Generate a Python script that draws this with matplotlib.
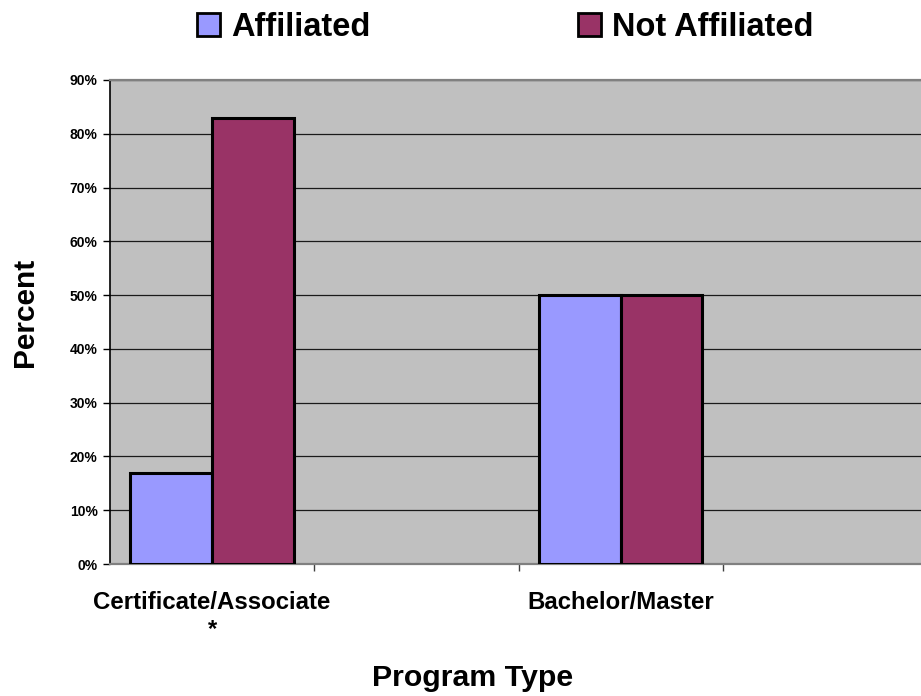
import numpy as np
import matplotlib
matplotlib.use("Agg")
import matplotlib.pyplot as plt
from matplotlib.patches import Patch
from matplotlib.ticker import FuncFormatter, FixedLocator

plt.rcParams["font.family"] = ["Liberation Sans", "DejaVu Sans"]
plt.rcParams["font.weight"] = "bold"

# Category slots (blank slots keep the wide spacing of the original layout)
categories = ["Certificate/Associate\n*", "", "Bachelor/Master", ""]
affiliated = [17, np.nan, 50, np.nan]
not_affiliated = [83, np.nan, 50, np.nan]
y_ticks = [0, 10, 20, 30, 40, 50, 60, 70, 80, 90]

series_names = ["Affiliated", "Not Affiliated"]
colors = ["#9999FF", "#993366"]

fig = plt.figure(figsize=(9.21, 6.96), dpi=100)
W, H = 921, 696
left, right, top, bottom = 110, 927, 80, 564
ax = fig.add_axes([left / W, 1 - bottom / H, (right - left) / W, (bottom - top) / H])
ax.set_facecolor("#C0C0C0")

x = np.arange(len(categories))
bw = 0.4
ax.bar(x - bw / 2, affiliated, width=bw, color=colors[0], edgecolor="black",
       linewidth=2.2, zorder=3)
ax.bar(x + bw / 2, not_affiliated, width=bw, color=colors[1], edgecolor="black",
       linewidth=2.2, zorder=3)

ax.set_xlim(-0.5, len(categories) - 0.5)
ax.set_ylim(0, 90)

# y axis
ax.set_yticks(y_ticks)
ax.yaxis.set_major_formatter(FuncFormatter(lambda v, p: f"{v:.0f}%"))
ax.tick_params(axis="y", length=5, width=1, pad=4, labelsize=10, colors="black")
for t in ax.get_yticklabels():
    t.set_fontweight("bold")
ax.yaxis.grid(True, color="#1a1a1a", linewidth=0.9, zorder=1)
ax.set_axisbelow(True)

# x axis: tick marks at slot boundaries, labels centred on slots
ax.xaxis.set_major_locator(FixedLocator(x[:-1] + 0.5))
ax.xaxis.set_major_formatter(FuncFormatter(lambda v, p: ""))
ax.xaxis.set_minor_locator(FixedLocator(x))
ax.set_xticklabels(categories, minor=True)
ax.tick_params(axis="x", which="major", length=5, width=1, color="#404040")
ax.tick_params(axis="x", which="minor", length=0, pad=19.5, labelsize=17.3)
for t in ax.get_xticklabels(minor=True):
    t.set_fontweight("bold")

for side in ("top", "bottom"):
    ax.spines[side].set_color("#808080")
    ax.spines[side].set_linewidth(1.6)
ax.spines["left"].set_color("black")
ax.spines["left"].set_linewidth(1.2)
ax.spines["right"].set_visible(False)

ax.set_ylabel("Percent", fontsize=21.5, fontweight="bold", va="center")
ax.yaxis.set_label_coords((25 - left) / (right - left), (bottom - 312) / (bottom - top))
ax.set_xlabel("Program Type", fontsize=21.8, fontweight="bold", va="center")
ax.xaxis.set_label_coords((473 - left) / (right - left), (bottom - 678) / (bottom - top))

handles = [Patch(facecolor=c, edgecolor="black", linewidth=2) for c in colors]
fig.legend(handles, series_names, loc="center", bbox_to_anchor=(505.5 / W, 1 - 27 / H),
           ncol=2, frameon=False, prop={"weight": "bold", "size": 23.5},
           handlelength=0.7, handleheight=0.7, handletextpad=0.34,
           columnspacing=6.35, borderpad=0, borderaxespad=0)

fig.savefig("out.png", dpi=100)
